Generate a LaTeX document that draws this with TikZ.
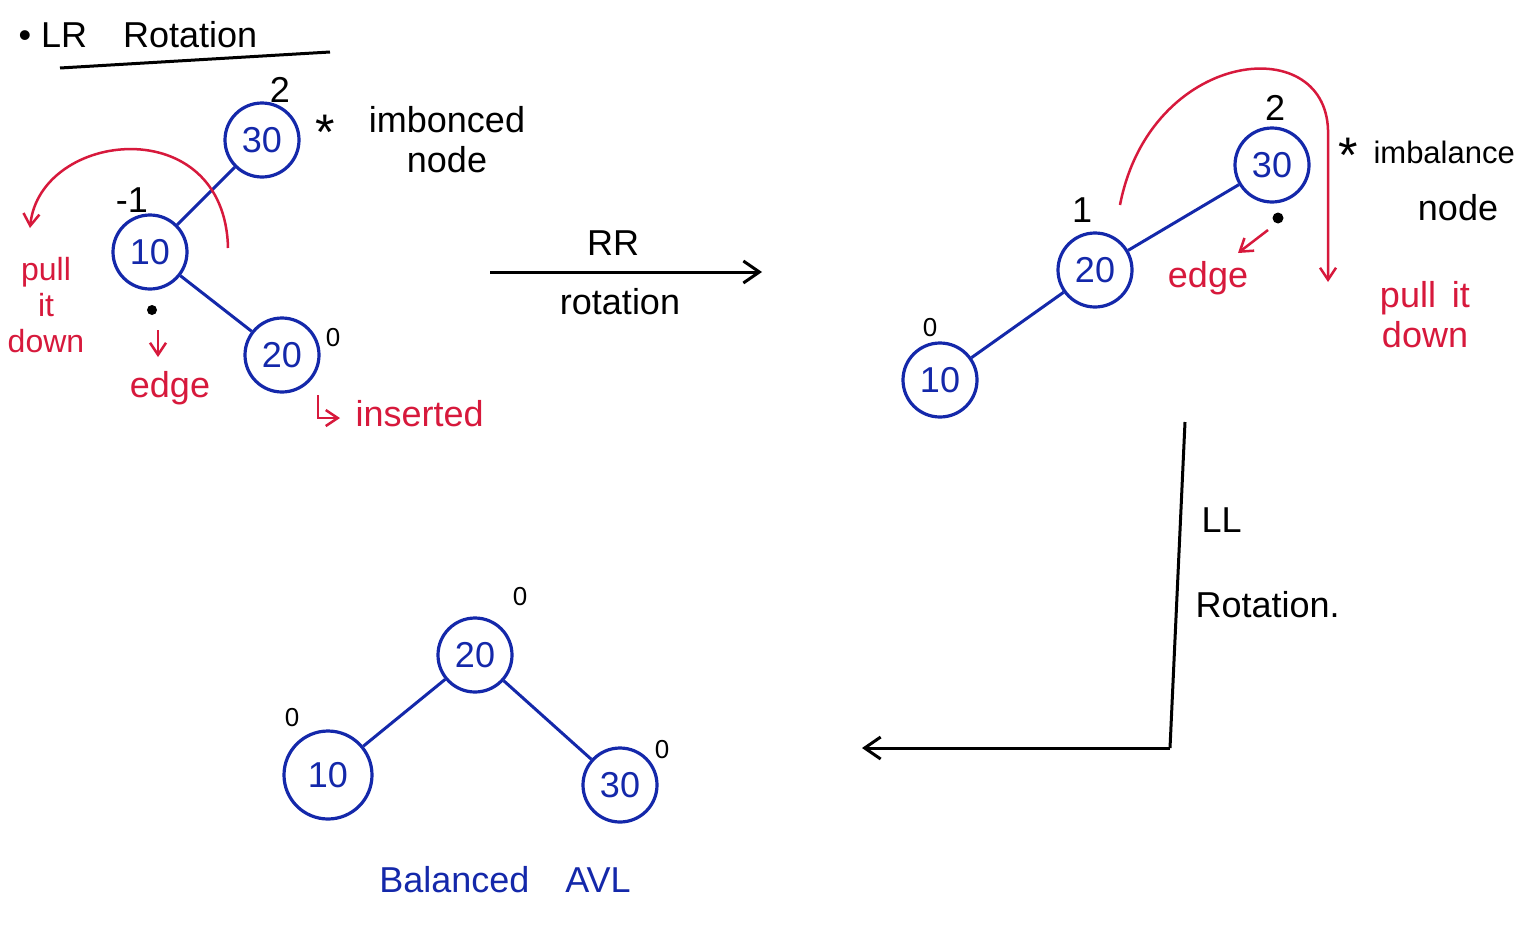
\documentclass[tikz,border=0pt]{standalone}
\usepackage{fontspec}
\setmainfont{Liberation Sans}
\usetikzlibrary{arrows.meta}
\definecolor{bl}{RGB}{20,40,170}
\definecolor{rd}{RGB}{215,25,60}
\begin{document}
\begin{tikzpicture}[x=1pt,y=-1pt,
  tn/.style={circle,draw=bl,line width=3.2pt,minimum size=74pt,inner sep=0pt,text=bl,font=\fontsize{36}{36}\selectfont},
  bedge/.style={draw=bl,line width=3pt},
  lab/.style={font=\fontsize{36}{40}\selectfont,align=center},
  rlab/.style={lab,text=rd},
  rarr/.style={draw=rd,line width=2.5pt,-{Straight Barb[length=12pt,width=16pt]}},
  karr/.style={draw=black,line width=3pt,-{Straight Barb[length=16pt,width=22pt]}}]
\useasboundingbox[fill=white] (0,0) rectangle (1528,945);
% title
\node[lab,anchor=west] (title) at (15,35) {• LR\quad Rotation};
\draw[line width=3pt] (60,68) -- (330,52);
% left tree
\node[tn] (a30) at (262,140) {30};
\node[tn] (a10) at (150,252) {10};
\node[tn] (a20) at (282,355) {20};
\draw[bedge] (a30) -- (a10);
\draw[bedge] (a10) -- (a20);
\node[lab] (a2) at (280,90) {2};
\node[lab] (am1) at (132,200) {-1};
\node[lab] (a0) at (333,338) {\fontsize{26}{26}\selectfont 0};
\node[lab] (astar) at (325,132) {\fontsize{50}{50}\selectfont *};
\node[lab] (aimb) at (447,140) {imbonced\\node};
\coordinate (ac1) at (228,248);
\coordinate (ac2) at (30,228);
\draw[rarr] (ac1) .. controls (225,110) and (40,130) .. (ac2);
\node[rlab,font=\fontsize{32}{36}\selectfont] (apull) at (46,305) {pull\\it\\down};
\fill (152,310) circle (5pt);
\coordinate (ae1) at (158,330); \coordinate (ae2) at (158,357);
\draw[rarr] (ae1) -- (ae2);
\node[rlab] (aedge) at (170,388) {edge};
\coordinate (h1) at (318,395); \coordinate (h2) at (340,418);
\draw[rarr] (h1) |- (h2);
\node[rlab,anchor=west] (ains) at (352,414) {inserted};
% RR arrow
\coordinate (rr1) at (490,272); \coordinate (rr2) at (762,272);
\draw[karr] (rr1) -- (rr2);
\node[lab] (rrl) at (613,243) {RR};
\node[lab] (rrr) at (620,302) {rotation};
% right tree
\node[tn] (b30) at (1272,165) {30};
\node[tn] (b20) at (1095,270) {20};
\node[tn] (b10) at (940,380) {10};
\draw[bedge] (b30) -- (b20);
\draw[bedge] (b20) -- (b10);
\node[lab] (b2) at (1275,108) {2};
\node[lab] (b1) at (1082,210) {1};
\node[lab] (b0) at (930,328) {\fontsize{26}{26}\selectfont 0};
\node[lab] (bstar) at (1348,155) {\fontsize{50}{50}\selectfont *};
\node[lab,anchor=west,font=\fontsize{31}{36}\selectfont] (bimb) at (1370,152) {imbalance};
\node[lab] (bnode) at (1458,208) {node};
\coordinate (bc1) at (1120,205); \coordinate (bc2) at (1328,282);
\draw[rarr] (bc1) .. controls (1150,50) and (1325,30) .. (1328,130) -- (bc2);
\node[rlab] (bpull) at (1425,315) {pull\, it\\down};
\fill (1278,218) circle (5.5pt);
\coordinate (be1) at (1268,230); \coordinate (be2) at (1238,253);
\draw[rarr] (be1) -- (be2);
\node[rlab] (bedgel) at (1208,278) {edge};
% LL arrow
\coordinate (l1) at (1185,422); \coordinate (l2) at (1170,748); \coordinate (l3) at (862,748);
\draw[line width=3pt] (l1) -- (l2);
\draw[karr] (l2) -- (l3);
\node[lab,anchor=west] (ll1) at (1198,520) {LL};
\node[lab,anchor=west] (ll2) at (1192,605) {Rotation.};
% bottom tree
\node[tn] (c20) at (475,655) {20};
\node[tn,minimum size=88pt] (c10) at (328,775) {10};
\node[tn] (c30) at (620,785) {30};
\draw[bedge] (c20) -- (c10);
\draw[bedge] (c20) -- (c30);
\node[lab] (c0a) at (520,597) {\fontsize{26}{26}\selectfont 0};
\node[lab] (c0b) at (292,718) {\fontsize{26}{26}\selectfont 0};
\node[lab] (c0c) at (662,750) {\fontsize{26}{26}\selectfont 0};
\node[lab,text=bl] (bal) at (505,880) {Balanced\quad AVL};
\end{tikzpicture}
\end{document}
